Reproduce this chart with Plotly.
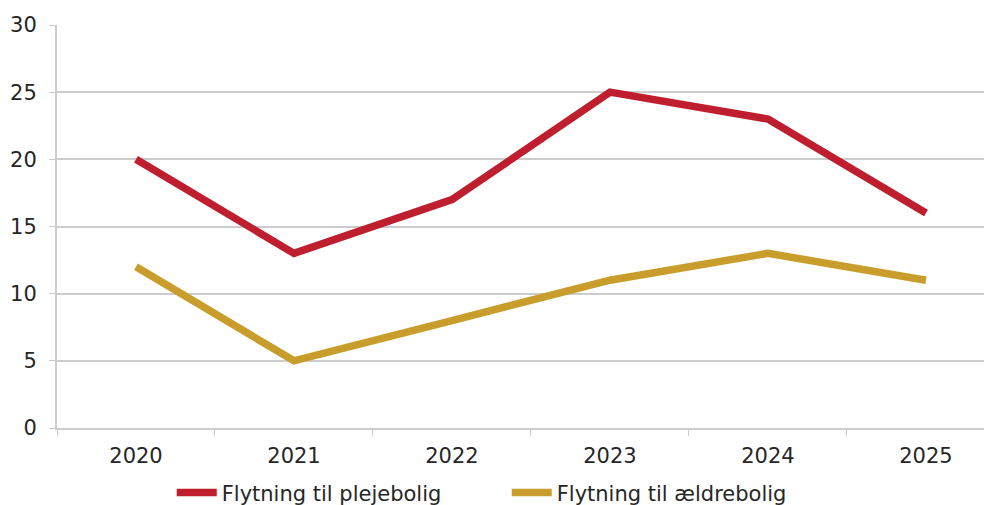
import plotly.graph_objects as go

years = ["2020", "2021", "2022", "2023", "2024", "2025"]
plejebolig = [20, 13, 17, 25, 23, 16]
aeldrebolig = [12, 5, 8, 11, 13, 11]

RED = "#BE1E2D"
GOLD = "#C99D2C"
GRID = "#CCCCCC"
TXT = "#262626"
FONT = "DejaVu Sans"
FS = 21

fig = go.Figure()
fig.add_trace(go.Scatter(x=years, y=plejebolig, mode="lines", name="Flytning til plejebolig",
                         line=dict(color=RED, width=7.5)))
fig.add_trace(go.Scatter(x=years, y=aeldrebolig, mode="lines", name="Flytning til ældrebolig",
                         line=dict(color=GOLD, width=7.5)))

fig.update_layout(
    width=984, height=497,
    margin=dict(l=49, r=0, t=17, b=77, autoexpand=False),
    paper_bgcolor="white", plot_bgcolor="white",
    font=dict(family=FONT, size=FS, color=TXT),
    showlegend=True,
    legend=dict(orientation="h", x=0.481, xanchor="center", y=-0.11, yanchor="top",
                font=dict(family=FONT, size=FS, color=TXT), itemwidth=40,
                entrywidth=280, entrywidthmode="pixels", tracegroupgap=0),
    xaxis=dict(type="category", range=[-0.5, 5.418], tickson="boundaries",
               ticks="outside", ticklen=6, tickcolor=GRID, showgrid=False,
               showline=True, linecolor=GRID, linewidth=2, automargin=False,
               ticklabelstandoff=8,
               tickfont=dict(family=FONT, size=FS, color=TXT)),
    yaxis=dict(range=[0, 30], tickvals=[0, 5, 10, 15, 20, 25, 30],
               ticks="outside", ticklen=6, tickcolor=GRID,
               showgrid=True, gridcolor=GRID, gridwidth=2, automargin=False,
               showline=True, linecolor=GRID, linewidth=2, zeroline=False,
               ticklabelstandoff=8,
               tickfont=dict(family=FONT, size=FS, color=TXT)),
)

fig.write_html("out.html")
